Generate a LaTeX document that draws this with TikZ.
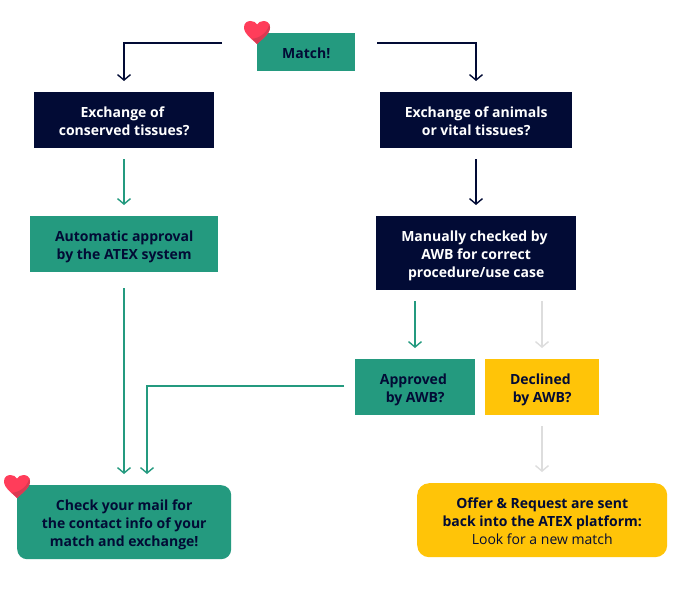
\documentclass[tikz,border=0pt]{standalone}
\usepackage{fontspec}
\setmainfont{Open Sans}
\usetikzlibrary{arrows.meta}
\definecolor{navy}{HTML}{020B35}
\definecolor{teal}{HTML}{249A7F}
\definecolor{amber}{HTML}{FFC408}
\definecolor{pale}{HTML}{DDDDDD}
\definecolor{heartred}{HTML}{FF3D5A}
\definecolor{heartdark}{HTML}{D93A52}
\newcommand{\dropa}{\rule{0pt}{13pt}}
\newcommand{\dropb}{\rule{0pt}{15pt}}
\newcommand{\tailgap}{\hspace*{3.6pt}}
\tikzset{
  x=1pt,y=-1pt,
  boxbase/.style={rectangle,inner sep=0pt,align=center,font=\fontsize{14}{18}\selectfont\bfseries,anchor=north west},
  greenbox/.style={boxbase,fill=teal,text=navy},
  darkbox/.style={boxbase,fill=navy,text=white},
  amberbox/.style={boxbase,fill=amber,text=navy},
  link/.style={line width=1.4pt,-{Straight Barb[length=5.5pt,width=13pt,line width=1.4pt]}},
  greenlink/.style={link,draw=teal},
  darklink/.style={link,draw=navy},
  greylink/.style={link,draw=pale},
  pics/heart/.style={code={
    \fill[heartred] (0,23) .. controls (-4,19) and (-13,13) .. (-13,6.5)
      .. controls (-13,2) and (-10,0) .. (-6.5,0)
      .. controls (-3.5,0) and (-1,1.5) .. (0,3.5)
      .. controls (1,1.5) and (3.5,0) .. (6.5,0)
      .. controls (10,0) and (13,2) .. (13,6.5)
      .. controls (13,13) and (4,19) .. (0,23) -- cycle;
    \fill[heartdark] (0,23) .. controls (4,19) and (13,13) .. (13,6.5)
      .. controls (13,5) and (12.7,4) .. (12.2,3)
      .. controls (11.5,10) and (4,17) .. (-5,17.8)
      .. controls (-3,19.7) and (-1,21.8) .. (0,23) -- cycle;
  }}
}
\begin{document}
\begin{tikzpicture}
\useasboundingbox[fill=white] (0,0) rectangle (674,602);

\node[greenbox,minimum width=98pt,minimum height=38pt] (match) at (257,33) {\dropa Match!};
\node[darkbox,minimum width=180pt,minimum height=56pt] (conserved) at (34,92) {\dropa Exchange of\tailgap\\conserved tissues?};
\node[darkbox,minimum width=192pt,minimum height=56pt] (vital) at (380,92) {\dropa Exchange of animals\\or vital tissues?};
\node[greenbox,minimum width=188pt,minimum height=56pt] (auto) at (30,216) {\dropb Automatic approval\\by the ATEX system};
\node[darkbox,minimum width=200pt,minimum height=74pt] (manual) at (376,216) {\dropb Manually checked by\tailgap\\AWB for correct\tailgap\\procedure/use case};
\node[greenbox,minimum width=120pt,minimum height=56pt] (approved) at (355,359) {\dropb Approved\tailgap\\by AWB?};
\node[amberbox,minimum width=114pt,minimum height=56pt] (declined) at (485,359) {\dropb Declined\tailgap\\by AWB?};
\node[greenbox,rounded corners=10pt,minimum width=214pt,minimum height=74pt] (mail) at (17,485) {\dropb Check your mail for\\the contact info of your\\match and exchange!};
\node[amberbox,rounded corners=12pt,minimum width=250pt,minimum height=74pt] (offer) at (417,483) {\dropa Offer \& Request are sent\\back into the ATEX platform:\\\mdseries Look for a new match};

\pic at (257,21) {heart};
\pic at (17,475) {heart};

\coordinate (l0) at (222,43);
\coordinate (l1) at (124,81);
\coordinate (r0) at (377,43);
\coordinate (r1) at (476,81);
\coordinate (a0) at (124,159);
\coordinate (a1) at (124,205);
\coordinate (b0) at (476,159);
\coordinate (b1) at (476,205);
\coordinate (c0) at (124,288);
\coordinate (c1) at (124,474);
\coordinate (d0) at (344,386);
\coordinate (d1) at (147,474);
\coordinate (e0) at (415,301);
\coordinate (e1) at (415,348);
\coordinate (f0) at (542,301);
\coordinate (f1) at (542,348);
\coordinate (g0) at (542,426);
\coordinate (g1) at (542,472);

\draw[darklink] (l0) -| (l1);
\draw[darklink] (r0) -| (r1);
\draw[greenlink] (a0) -- (a1);
\draw[darklink] (b0) -- (b1);
\draw[greenlink] (c0) -- (c1);
\draw[greenlink] (d0) -| (d1);
\draw[greenlink] (e0) -- (e1);
\draw[greylink] (f0) -- (f1);
\draw[greylink] (g0) -- (g1);
\end{tikzpicture}
\end{document}
